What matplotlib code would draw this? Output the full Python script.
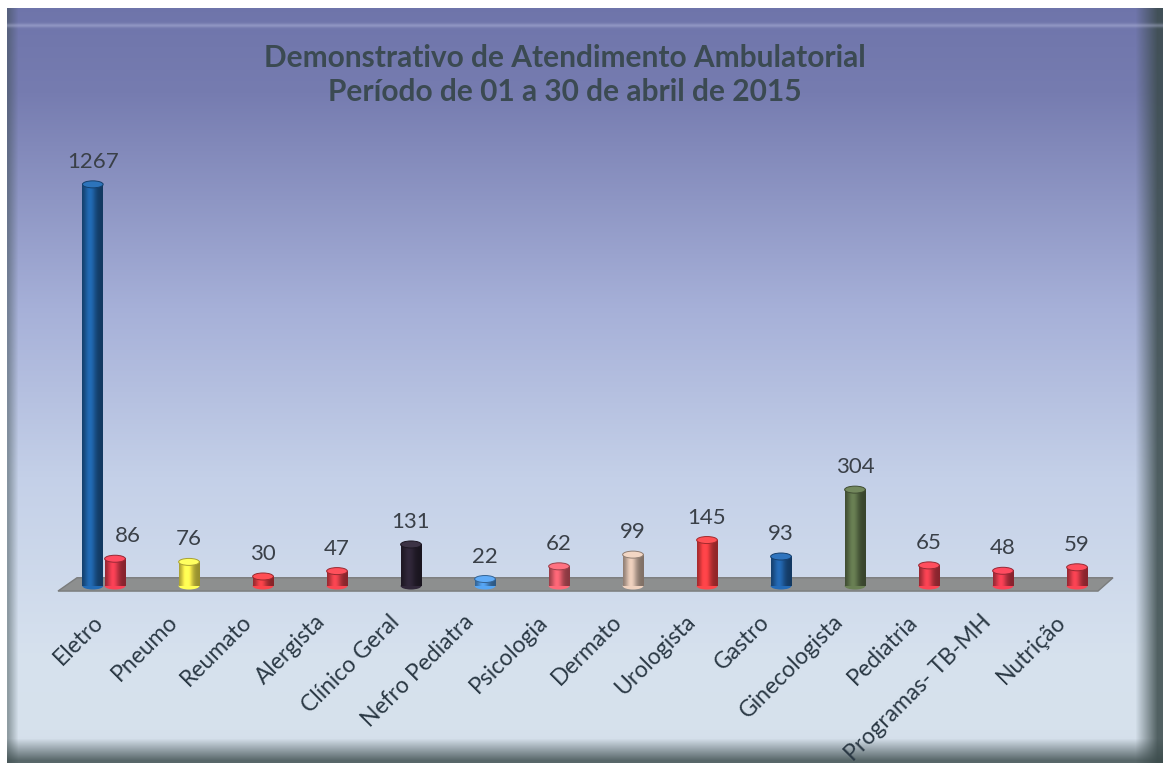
import numpy as np
import matplotlib
matplotlib.use("Agg")
import matplotlib.pyplot as plt
from matplotlib.patches import Ellipse, Polygon
import matplotlib.transforms as mtransforms

especialidades = ["Eletro", "Pneumo", "Reumato", "Alergista", "Clínico Geral",
                  "Nefro Pediatra", "Psicologia", "Dermato", "Urologista", "Gastro",
                  "Ginecologista", "Pediatria", "Programas- TB-MH", "Nutrição"]

# Eletro has two columns (blue + red), every other specialty one
atendimentos = [1267, 86, 76, 30, 47, 131, 22, 62, 99, 145, 93, 304, 65, 48, 59]
slot = [0, 0, 1, 2, 3, 4, 5, 6, 7, 8, 9, 10, 11, 12, 13]
desloc = [-0.3, 0, 0, 0, 0, 0, 0, 0, 0, 0, 0, 0, 0, 0, 0]
cores = ["#1d5c9c", "#d8384a", "#f2e64a", "#d83a40", "#d83c46", "#2a2232",
         "#4a8ed2", "#dc5a68", "#cdb4a4", "#e83c40", "#1f5c9e", "#5b6e48",
         "#d83a48", "#d8384a", "#d83a48"]

titulo = "Demonstrativo de Atendimento Ambulatorial\nPeríodo de 01 a 30 de abril de 2015"

W, H, DPI = 1170, 769, 100
plt.rcParams["font.family"] = ["Lato", "DejaVu Sans"]

fig = plt.figure(figsize=(W / DPI, H / DPI), dpi=DPI)

# ---- background panel with bevelled frame ----
bg = fig.add_axes([0, 0, 1, 1])
bg.set_axis_off()
rows = np.linspace(0, 1, H)
stops = [0.0, 0.12, 0.40, 0.62, 0.85, 0.95, 1.0]
cols_r = [110, 118, 166, 196, 214, 214, 208]
cols_g = [116, 124, 176, 208, 225, 225, 218]
cols_b = [170, 176, 216, 232, 238, 236, 230]
grad = np.stack([np.interp(rows, stops, cols_r),
                 np.interp(rows, stops, cols_g),
                 np.interp(rows, stops, cols_b)], axis=-1) / 255.0
img = np.repeat(grad[:, None, :], W, axis=1)

dark = np.array([58, 74, 74]) / 255.0
xs = np.arange(W)
ys = np.arange(H)
# right edge shadow
r_ramp = np.clip((xs - 1135) / 22.0, 0, 1)[None, :, None]
img = img * (1 - 0.85 * r_ramp) + dark * 0.85 * r_ramp
# bottom edge shadow
b_ramp = np.clip((ys - 738) / 22.0, 0, 1)[:, None, None]
img = img * (1 - 0.8 * b_ramp) + dark * 0.8 * b_ramp
# left edge
l_ramp = np.clip((18 - xs) / 10.0, 0, 1)[None, :, None]
img = img * (1 - 0.45 * l_ramp) + dark * 0.45 * l_ramp
# top bevel highlight
t_line = np.exp(-((ys - 25) / 2.0) ** 2)[:, None, None]
img = img * (1 - 0.35 * t_line) + np.array([0.78, 0.80, 0.92]) * 0.35 * t_line
img = np.clip(img, 0, 1)
# white paper margin
img[:8, :, :] = 1
img[763:, :, :] = 1
img[:, :7, :] = 1
img[:, 1163:, :] = 1
bg.imshow(img, extent=[0, 1, 0, 1], aspect="auto", origin="upper")
bg.set_xlim(0, 1)
bg.set_ylim(0, 1)

# ---- chart axes ----
ax_left, ax_right, ax_top, ax_bottom = 55, 1115, 140, 600
base_px, x0_px, slot_px, unit_px = 586, 115, 74.0, 0.317
ax = fig.add_axes([ax_left / W, (H - ax_bottom) / H,
                   (ax_right - ax_left) / W, (ax_bottom - ax_top) / H])
ax.set_facecolor("none")
xlim = ((ax_left - x0_px) / slot_px, (ax_right - x0_px) / slot_px)
ylim = (-(ax_bottom - base_px) / unit_px, (base_px - ax_top) / unit_px)

# floor slab
fl = [((58 - x0_px) / slot_px, -16), ((77 - x0_px) / slot_px, 26),
      ((1113 - x0_px) / slot_px, 26), ((1098 - x0_px) / slot_px, -16)]
ax.add_patch(Polygon(fl, closed=True, facecolor="#8d8f8f", edgecolor="#7a7c7c",
                     lw=1, zorder=1))

largura = 0.28
elip_h = 7 / unit_px
perfil = np.linspace(0, 1, 40)
sombra = 0.62 + 0.55 * np.exp(-((perfil - 0.38) / 0.28) ** 2)

for i, v in enumerate(atendimentos):
    x = slot[i] + desloc[i]
    base = np.array(matplotlib.colors.to_rgb(cores[i]))
    faixa = np.clip(base[None, :] * sombra[:, None], 0, 1)[None, :, :]
    ax.imshow(faixa, extent=[x - largura / 2, x + largura / 2, 0, v],
              aspect="auto", zorder=3, interpolation="bilinear")
    escuro = base * 0.7
    ax.add_patch(Ellipse((x, 0), largura, elip_h, facecolor=faixa[0, 14],
                         edgecolor="none", zorder=2.9))
    topo = np.clip(base * 1.12 + 0.05, 0, 1)
    ax.add_patch(Ellipse((x, v), largura, elip_h, facecolor=topo,
                         edgecolor=escuro, lw=0.7, zorder=4))
    dx = 9 if (i == 1) else 0
    ax.annotate(str(v), (x, v), xytext=(dx, 9), textcoords="offset points",
                ha="center", va="bottom", fontsize=16, color="#3a4048",
                zorder=5)

ax.set_xlim(*xlim)
ax.set_ylim(*ylim)
ax.set_xticks(range(len(especialidades)))
ax.set_xticklabels(especialidades, rotation=45, ha="right",
                   rotation_mode="anchor", fontsize=16.5, color="#2b3945")
ax.tick_params(axis="x", length=0, pad=8)
desvio = mtransforms.ScaledTranslation(-16 / 72, 0, fig.dpi_scale_trans)
for lab in ax.get_xticklabels():
    lab.set_transform(lab.get_transform() + desvio)
ax.set_yticks([])
for s in ax.spines.values():
    s.set_visible(False)

fig.text(565 / W, 1 - 75 / H, titulo, ha="center", va="center", fontsize=21.5,
         fontweight="bold", color="#3b4a52", linespacing=1.3)

fig.savefig("out.png", dpi=DPI)
